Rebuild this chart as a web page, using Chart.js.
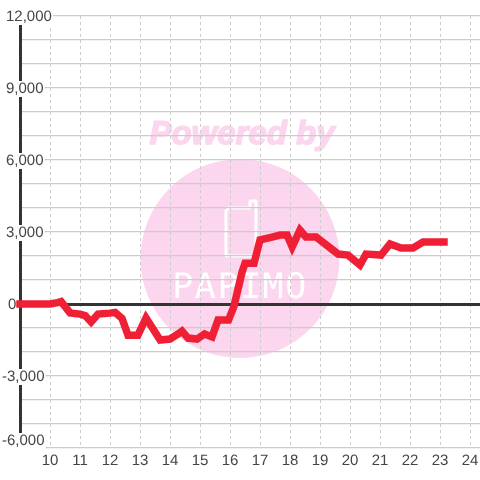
<!DOCTYPE html>
<html>
<head>
    <title>Powered by PAPIMO</title>
    <script src="https://cdn.jsdelivr.net/npm/chart.js"></script>
    <style>
        html, body { margin: 0; padding: 0; background: #fff; }
        canvas { display: block; }
    </style>
</head>
<body>
    <canvas id="balanceChart" width="480" height="480"></canvas>

    <script>
        const hours = [9, 10, 10.25, 10.37, 10.67, 11, 11.17, 11.37, 11.6, 12, 12.17, 12.4, 12.6, 12.93, 13.2, 13.67, 14, 14.27, 14.4, 14.6, 14.9, 15.15, 15.4, 15.6, 15.95, 16.13, 16.4, 16.5, 16.8, 17, 17.4, 17.67, 17.9, 18.07, 18.33, 18.53, 18.87, 19.6, 19.93, 20.33, 20.53, 21.03, 21.33, 21.7, 22.1, 22.43, 23.13];
        const balance = [0, 0, 60, 100, -370, -420, -480, -750, -420, -380, -350, -600, -1300, -1300, -580, -1500, -1460, -1250, -1130, -1420, -1460, -1250, -1370, -670, -670, -100, 1330, 1700, 1700, 2670, 2790, 2875, 2875, 2380, 3080, 2790, 2790, 2080, 2040, 1625, 2080, 2040, 2500, 2330, 2330, 2580, 2580];
        const labelledYTicks = [12000, 9000, 6000, 3000, 0, -3000, -6000];

        const PINK = '#fbd6ee';
        const LABEL_FONT = '15px "Liberation Sans"';

        // Watermark sits under the grid, so it goes in before anything else
        const watermark = {
            id: 'watermark',
            beforeDraw(chart) {
                const ctx = chart.ctx;
                // unhinted glyphs, closer to the soft labels of the original
                ctx.textRendering = 'geometricPrecision';
                ctx.save();
                ctx.fillStyle = PINK;
                ctx.beginPath();
                ctx.arc(240, 258.5, 99.5, 0, Math.PI * 2);
                ctx.fill();

                ctx.font = 'italic bold 33px "Liberation Sans"';
                ctx.textAlign = 'center';
                ctx.textBaseline = 'middle';
                ctx.strokeStyle = PINK;
                ctx.lineWidth = 1.5;
                ctx.lineJoin = 'round';
                ctx.fillText('Powered by', 242, 135);
                ctx.strokeText('Powered by', 242, 135);

                // phone icon
                ctx.strokeStyle = '#fff';
                ctx.lineWidth = 3;
                ctx.beginPath();
                ctx.moveTo(229, 208);
                ctx.lineTo(250, 208);
                ctx.lineTo(250, 201);
                ctx.lineTo(256, 201);
                ctx.lineTo(256, 256);
                ctx.lineTo(226, 256);
                ctx.lineTo(226, 211);
                ctx.closePath();
                ctx.stroke();

                ctx.fillStyle = '#fff';
                ctx.font = '35px "DejaVu Sans Mono"';
                ctx.letterSpacing = '1.5px';
                ctx.fillText('PAPIMO', 240, 289);
                ctx.restore();
            }
        };

        // Y labels sit on a white patch that breaks the axis line and grid
        const yLabels = {
            id: 'yLabels',
            afterDraw(chart) {
                const ctx = chart.ctx;
                const y = chart.scales.y;
                ctx.save();
                ctx.font = LABEL_FONT;
                ctx.textAlign = 'left';
                ctx.textBaseline = 'middle';
                labelledYTicks.forEach(function(value) {
                    const text = value.toLocaleString('en-US');
                    const left = value === 0 ? 8 : (value < 0 ? 2 : 6);
                    const py = Math.min(y.getPixelForValue(value) + 1, 441);
                    if (value !== 0) {
                        ctx.fillStyle = '#fff';
                        ctx.fillRect(left, py - 8, ctx.measureText(text).width + 1, 16);
                    }
                    ctx.fillStyle = '#444';
                    ctx.fillText(text, left, py);
                });
                ctx.restore();
            }
        };

        new Chart(document.getElementById('balanceChart'), {
            type: 'line',
            data: {
                datasets: [{
                    data: hours.map((h, i) => ({ x: h, y: balance[i] })),
                    borderColor: '#ef2036',
                    borderWidth: 7.5,
                    borderCapStyle: 'square',
                    borderJoinStyle: 'miter',
                    pointRadius: 0,
                    tension: 0,
                    clip: false
                }]
            },
            options: {
                responsive: false,
                animation: false,
                layout: { padding: { top: 16 } },
                plugins: { legend: { display: false }, tooltip: { enabled: false } },
                scales: {
                    x: {
                        type: 'linear',
                        min: 9,
                        max: 24.33,
                        afterFit(scale) {
                            scale.height = 32;
                            // keep the plot running to the right edge of the canvas
                            scale.paddingLeft = 0;
                            scale.paddingRight = 0;
                        },
                        grid: {
                            color: ctx => ctx.tick && ctx.tick.value === 9 ? 'transparent' : '#cccccc',
                            lineWidth: 1,
                            drawTicks: false
                        },
                        border: { display: false, dash: [3, 3] },
                        ticks: {
                            stepSize: 1,
                            includeBounds: false,
                            autoSkip: false,
                            maxRotation: 0,
                            padding: 4,
                            color: '#444',
                            font: { family: '"Liberation Sans"', size: 15 },
                            callback: v => v === 9 ? '' : String(v)
                        }
                    },
                    y: {
                        min: -6000,
                        max: 12000,
                        afterFit(scale) { scale.width = 20; },
                        grid: {
                            color: ctx => ctx.tick && ctx.tick.value === 0 ? '#333' : '#cccccc',
                            lineWidth: ctx => ctx.tick && ctx.tick.value === 0 ? 3 : 1.2,
                            drawTicks: false
                        },
                        border: { color: '#333', width: 3 },
                        ticks: { stepSize: 1000, display: false }
                    }
                }
            },
            plugins: [watermark, yLabels]
        });
    </script>
</body>
</html>
